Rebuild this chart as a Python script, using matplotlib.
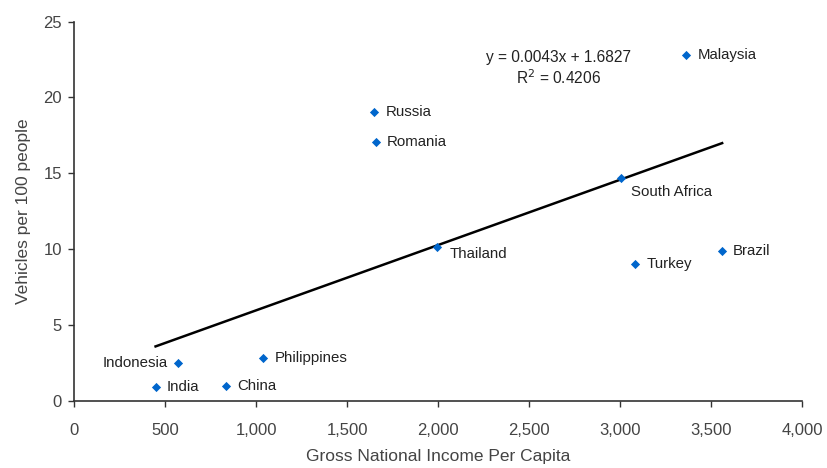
#!/usr/bin/env python3
"""Vehicles per 100 people vs gross national income per capita, with linear trend."""

import matplotlib
matplotlib.use("Agg")
import matplotlib.pyplot as plt
from matplotlib.ticker import FuncFormatter

countries = ["India", "Indonesia", "China", "Philippines", "Russia", "Romania",
             "Thailand", "South Africa", "Malaysia", "Turkey", "Brazil"]
gni_per_capita = [446, 568, 834, 1038, 1649, 1658, 1994, 3005, 3363, 3083, 3560]
vehicles_per_100 = [0.92, 2.53, 0.99, 2.83, 19.06, 17.08, 10.13, 14.7, 22.79, 9.04, 9.91]

slope = 0.0043
intercept = 1.6827
r_squared = 0.4206

# label offsets in points (dx, dy) and alignment
label_offsets = {
    "Indonesia": (-7, 0, "right"),
    "South Africa": (7, -10, "left"),
    "Thailand": (9, -5, "left"),
}

plt.rcParams["font.family"] = ["Liberation Sans", "DejaVu Sans"]

fig = plt.figure(figsize=(8.27, 4.68), dpi=100)
ax = fig.add_axes([0.090, 0.143, 0.880, 0.811])

x_lo, x_hi = min(gni_per_capita), max(gni_per_capita)
ax.plot([x_lo, x_hi], [slope * x_lo + intercept, slope * x_hi + intercept],
        color="black", linewidth=1.8, zorder=2)

ax.scatter(gni_per_capita, vehicles_per_100, marker="D", s=22,
           color="#0066CC", zorder=3, linewidths=0)

for name, gx, vy in zip(countries, gni_per_capita, vehicles_per_100):
    dx, dy, ha = label_offsets.get(name, (8, 0, "left"))
    ax.annotate(name, (gx, vy), xytext=(dx, dy), textcoords="offset points",
                ha=ha, va="center", fontsize=10.8, color="#222222")

ax.text(2660, 21.9, f"y = {slope}x + {intercept}\nR$^2$ = {r_squared}",
        ha="center", va="center", fontsize=11.2, color="#222222", linespacing=1.2)

ax.set_xlim(0, 4000)
ax.set_ylim(0, 25)
ax.set_xticks(range(0, 4001, 500))
ax.set_yticks(range(0, 26, 5))
ax.xaxis.set_major_formatter(FuncFormatter(lambda v, p: f"{int(v):,}"))

for side in ("top", "right"):
    ax.spines[side].set_visible(False)
for side in ("left", "bottom"):
    ax.spines[side].set_color("#333333")
    ax.spines[side].set_linewidth(1.2)

ax.tick_params(direction="out", length=4, width=1, colors="#333333",
               labelsize=12, labelcolor="#444444", pad=5)
ax.tick_params(axis="x", pad=12)

ax.set_xlabel("Gross National Income Per Capita", fontsize=12.5, color="#444444", labelpad=8)
ax.set_ylabel("Vehicles per 100 people", fontsize=12.5, color="#444444", labelpad=9)

fig.savefig("out.png", dpi=100)
